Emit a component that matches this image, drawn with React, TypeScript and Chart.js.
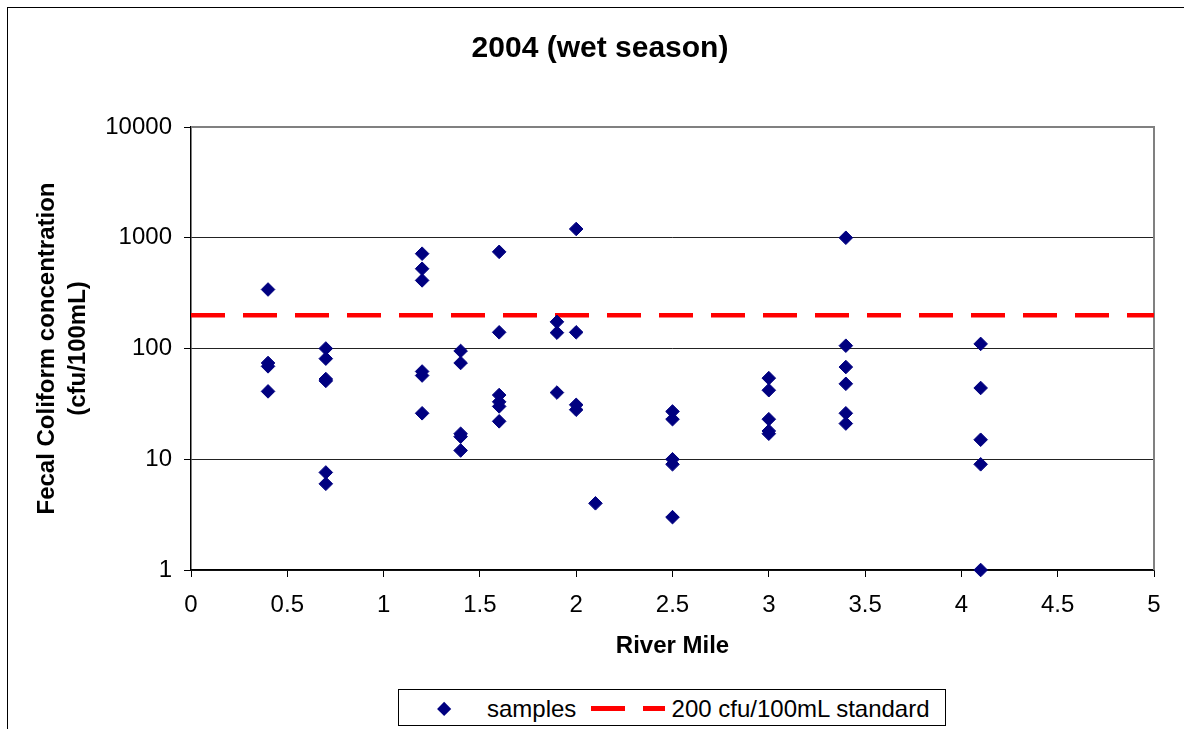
import React, { useEffect, useRef } from 'react';
import { Chart, registerables } from 'chart.js';

Chart.register(...registerables);

// River mile of each sampling station
const riverMiles = [0.4, 0.7, 1.2, 1.4, 1.6, 1.9, 2.0, 2.1, 2.5, 3.0, 3.4, 4.1];

// Fecal coliform samples (cfu/100mL) per station, same order as riverMiles
const samplesPerStation = [
  [341, 74, 69, 41],
  [100, 81, 53, 51, 7.6, 6],
  [718, 525, 412, 62, 57, 26],
  [95, 74, 17, 16, 12],
  [746, 140, 38, 33, 30, 22],
  [174, 139, 40],
  [1200, 140, 31, 28],
  [4],
  [27, 23, 10, 9, 3],
  [54, 42, 23, 18, 17],
  [1000, 106, 68, 48, 26, 21],
  [110, 44, 15, 9, 1],
];

const standardLevel = 200;
const standardRange = [0, 5];

const xTicks = [0, 0.5, 1, 1.5, 2, 2.5, 3, 3.5, 4, 4.5, 5];
const yTicks = [1, 10, 100, 1000, 10000];

const FONT = '"Liberation Sans", Arial, Helvetica, sans-serif';
const NAVY = '#000080';
const RED = '#FF0000';

// gray frame on the top and right of the plot area (Excel style)
const plotFrame = {
  id: 'plotFrame',
  beforeDatasetsDraw(chart: any) {
    const { ctx, chartArea: a } = chart;
    ctx.save();
    ctx.strokeStyle = '#808080';
    ctx.lineWidth = 2;
    ctx.beginPath();
    ctx.moveTo(a.left, a.top);
    ctx.lineTo(a.right, a.top);
    ctx.lineTo(a.right, a.bottom);
    ctx.stroke();
    ctx.restore();
  },
};

export default function App() {
  const canvasRef = useRef<HTMLCanvasElement | null>(null);
  const chartRef = useRef<Chart | null>(null);

  useEffect(() => {
    if (!canvasRef.current) return;
    if (chartRef.current) chartRef.current.destroy();

    const points = riverMiles.flatMap((mile, i) =>
      samplesPerStation[i].map(v => ({ x: mile, y: v }))
    );

    chartRef.current = new Chart(canvasRef.current, {
      type: 'scatter',
      data: {
        datasets: [
          {
            label: 'samples',
            data: points,
            pointStyle: 'rectRot',
            pointRadius: 6.8,
            pointBackgroundColor: NAVY,
            pointBorderColor: NAVY,
            pointBorderWidth: 1,
            showLine: false,
            clip: false,
          } as any,
          {
            type: 'line',
            label: '200 cfu/100mL standard',
            data: standardRange.map(x => ({ x, y: standardLevel })),
            borderColor: RED,
            borderWidth: 4.5,
            borderDash: [34, 18],
            borderCapStyle: 'butt',
            pointRadius: 0,
            fill: false,
          } as any,
        ],
      },
      options: {
        animation: false,
        responsive: true,
        maintainAspectRatio: false,
        events: [],
        layout: { padding: { left: 46, right: 30, top: 0, bottom: 68 } },
        plugins: {
          legend: { display: false },
          tooltip: { enabled: false },
          title: {
            display: true,
            text: '2004 (wet season)',
            color: '#000',
            font: { family: FONT, size: 30, weight: 'bold', lineHeight: 1.2 },
            padding: { top: 30.5, bottom: 60.5 },
          },
        },
        scales: {
          x: {
            type: 'linear',
            min: 0,
            max: 5,
            afterBuildTicks: (s: any) => {
              s.ticks = xTicks.map(v => ({ value: v }));
            },
            afterFit: (s: any) => {
              s.height = 91;
            },
            ticks: {
              callback: (v: any) => String(v),
              color: '#000',
              font: { family: FONT, size: 24 },
              padding: 14,
              maxRotation: 0,
              autoSkip: false,
            },
            grid: { drawOnChartArea: false, tickLength: 7, tickColor: '#000', tickWidth: 1 },
            border: { color: '#000', width: 1.5 },
            title: {
              display: true,
              text: 'River Mile',
              color: '#000',
              font: { family: FONT, size: 24, weight: 'bold', lineHeight: 1.2 },
              padding: { top: 12.5, bottom: 0 },
            },
          },
          y: {
            type: 'logarithmic',
            min: 1,
            max: 10000,
            afterBuildTicks: (s: any) => {
              s.ticks = yTicks.map(v => ({ value: v, major: true }));
            },
            afterFit: (s: any) => {
              s.width = 145;
            },
            ticks: {
              callback: (v: any) => String(v),
              color: '#000',
              font: { family: FONT, size: 24 },
              padding: 12,
              autoSkip: false,
            },
            grid: {
              color: (c: any) => (c.tick && c.tick.value === 10000 ? '#808080' : '#222'),
              lineWidth: 1,
              tickLength: 7,
              tickColor: '#000',
              tickWidth: 1,
            },
            border: { color: '#000', width: 1.5 },
            title: {
              display: true,
              text: ['Fecal Coliform concentration', '(cfu/100mL)'],
              color: '#000',
              font: { family: FONT, size: 24, weight: 'bold', lineHeight: 1.3 },
              padding: { top: -14.4, bottom: 0 },
            },
          },
        },
      } as any,
      plugins: [plotFrame],
    });

    return () => {
      if (chartRef.current) {
        chartRef.current.destroy();
        chartRef.current = null;
      }
    };
  }, []);

  const legendText: React.CSSProperties = {
    position: 'absolute',
    top: 4,
    fontFamily: FONT,
    fontSize: 24,
    lineHeight: '30px',
    color: '#000',
    whiteSpace: 'nowrap',
  };

  return (
    <div style={{ position: 'fixed', left: 0, top: 0, width: 1184, height: 729, overflow: 'hidden', background: '#fff' }}>
      {/* outer chart frame, right and bottom edges fall outside the picture */}
      <div style={{ position: 'absolute', left: 7, top: 7, width: 1300, height: 800, border: '1.3px solid #000' }} />

      <div style={{ position: 'absolute', left: 0, top: 0, width: 1184, height: 729 }}>
        <canvas ref={canvasRef} />
      </div>

      {/* legend */}
      <div style={{ position: 'absolute', left: 398, top: 689, width: 546, height: 35, border: '1px solid #000', background: '#fff' }}>
        <span style={{ position: 'absolute', left: 40, top: 14, width: 10.3, height: 10.3, background: NAVY, transform: 'rotate(45deg)' }} />
        <span style={{ ...legendText, left: 88 }}>samples</span>
        <span style={{ position: 'absolute', left: 192, top: 16, width: 34, height: 4.7, background: RED }} />
        <span style={{ position: 'absolute', left: 243.5, top: 16, width: 22.6, height: 4.7, background: RED }} />
        <span style={{ ...legendText, left: 272.6 }}>200 cfu/100mL standard</span>
      </div>
    </div>
  );
}
